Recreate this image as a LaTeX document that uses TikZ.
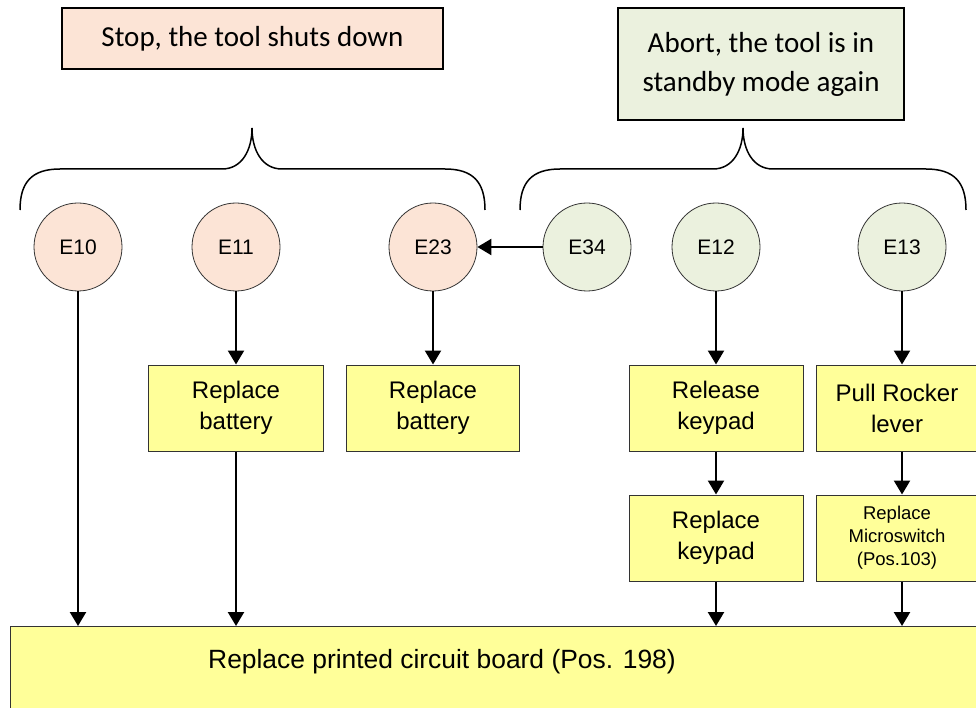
\documentclass[tikz,border=0pt]{standalone}
\usepackage{fontspec}
\setmainfont{Liberation Sans}
\newfontfamily\calibri{Carlito}
\usetikzlibrary{arrows.meta}
\definecolor{stoppink}{RGB}{252,228,214}
\definecolor{abortgreen}{RGB}{235,241,222}
\definecolor{stepyellow}{RGB}{255,255,153}
\begin{document}
\begin{tikzpicture}[x=1pt,y=-1pt,
  headbox/.style={rectangle,draw=black,line width=2pt,align=center,inner sep=0pt,
    font=\calibri\fontsize{29}{39}\selectfont},
  errcircle/.style={circle,draw=black!80,line width=0.8pt,minimum size=88pt,inner sep=0pt,
    font=\fontsize{21}{25}\selectfont},
  stepbox/.style={rectangle,draw=black!80,line width=1pt,fill=stepyellow,align=center,inner sep=0pt,
    minimum height=86pt,font=\fontsize{24}{31}\selectfont},
  flow/.style={-{Triangle[width=16pt,length=14pt]},line width=2.4pt},
  brace/.style={line width=1.5pt}]
\useasboundingbox (0,0) rectangle (976,708);
% headers
\node[headbox,fill=stoppink,minimum width=381pt,minimum height=61pt] (stop) at (252.5,38.5) {Stop, the tool shuts down};
\node[headbox,fill=abortgreen,minimum width=286pt,minimum height=112pt] (abort) at (761,64) {Abort, the tool is in\\standby mode again};
% braces
\draw[brace] (20,210) .. controls (20,182) and (32,169) .. (60,169) -- (222,169)
  .. controls (242,169) and (252,150) .. (252,128)
  .. controls (252,150) and (262,169) .. (282,169) -- (445,169)
  .. controls (473,169) and (485,182) .. (485,210);
\draw[brace] (520,210) .. controls (520,182) and (532,169) .. (560,169) -- (713,169)
  .. controls (733,169) and (743,150) .. (743,128)
  .. controls (743,150) and (753,169) .. (773,169) -- (926,169)
  .. controls (954,169) and (966,182) .. (966,210);
% error codes
\node[errcircle,fill=stoppink] (e10) at (78,247) {E10};
\node[errcircle,fill=stoppink] (e11) at (236,247) {E11};
\node[errcircle,fill=stoppink] (e23) at (433,247) {E23};
\node[errcircle,fill=abortgreen] (e34) at (587,247) {E34};
\node[errcircle,fill=abortgreen] (e12) at (716,247) {E12};
\node[errcircle,fill=abortgreen] (e13) at (902,247) {E13};
% steps
\node[stepbox,minimum width=175pt] (bat1) at (236,408) {Replace\\battery};
\node[stepbox,minimum width=173pt] (bat2) at (433,408) {Replace\\battery};
\node[stepbox,minimum width=174pt] (relkey) at (716,408) {Release\\keypad};
\node[stepbox,minimum width=162pt] (rocker) at (897,408) {Pull Rocker\\lever};
\node[stepbox,minimum width=174pt] (repkey) at (716,538) {Replace\\keypad};
\node[stepbox,minimum width=162pt,font=\fontsize{18.5}{23}\selectfont] (micro) at (897,538) {Replace\\Microswitch\\(Pos.103)};
\node[stepbox,minimum width=975pt,minimum height=90pt,anchor=north west] (pcb) at (10,626) {};
\node[font=\fontsize{26.4}{31}\selectfont] (pcbtext) at (442,662) {Replace printed circuit board (Pos. 198)};
% connectors
\draw[flow] (e34) -- (e23);
\draw[flow] (e10) -- (e10 |- pcb.north);
\draw[flow] (e11) -- (bat1);
\draw[flow] (bat1) -- (bat1 |- pcb.north);
\draw[flow] (e23) -- (bat2);
\draw[flow] (e12) -- (relkey);
\draw[flow] (relkey) -- (repkey);
\draw[flow] (repkey) -- (repkey |- pcb.north);
\draw[flow] (e13) -- (e13 |- rocker.north);
\draw[flow] (rocker.south -| e13) -- (e13 |- micro.north);
\draw[flow] (micro.south -| e13) -- (e13 |- pcb.north);
\end{tikzpicture}
\end{document}
